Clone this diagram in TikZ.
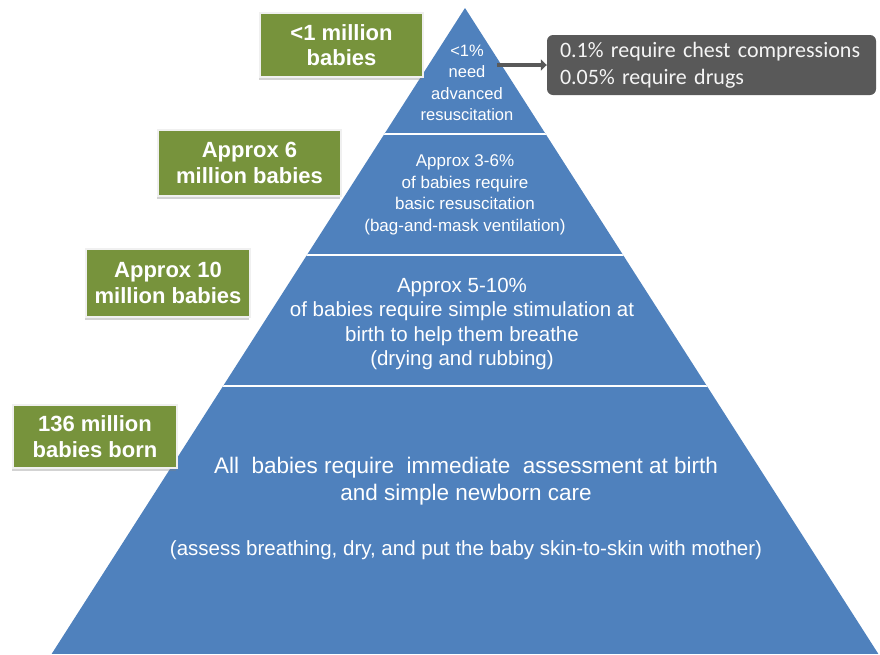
\documentclass[tikz,border=0pt]{standalone}
\usepackage{fontspec}
\setmainfont{Liberation Sans}
\newfontfamily\calibrifont{Carlito}
\usetikzlibrary{arrows.meta,shadows}

\definecolor{pyrblue}{HTML}{4F81BD}
\definecolor{labelgreen}{HTML}{77933C}
\definecolor{notegray}{HTML}{595959}

\tikzset{
  countbox/.style={fill=labelgreen, draw=white!88!gray, line width=1.2pt,
    text=white, font=\bfseries\fontsize{22}{25.5}\selectfont, align=center,
    inner sep=0pt,
    drop shadow={shadow xshift=-1pt, shadow yshift=-3pt, opacity=.35}},
  bandtext/.style={text=white, align=center, inner sep=0pt},
  smalltext/.style={bandtext, font=\fontsize{16.5}{21.5}\selectfont},
  bigtext/.style={bandtext, font=\fontsize{20.5}{24.5}\selectfont},
}

\begin{document}
\begin{tikzpicture}[x=1pt,y=-1pt]
    \useasboundingbox (0,0) rectangle (880,654);

    % pyramid with white band lines
    \begin{scope}
        \clip (465,8) -- (878.4,654) -- (51.6,654) -- cycle;
        \fill[pyrblue] (0,0) rectangle (880,654);
        \foreach \yy in {134,255,386}
            \draw[white, line width=2.5pt] (0,\yy) -- (880,\yy);
    \end{scope}

    % band texts
    \node[smalltext] (advtext) at (467,83) {<1\%\\need\\advanced\\resuscitation};
    \node[smalltext, font=\fontsize{17}{21.5}\selectfont] (basictext) at (465,195) {Approx 3-6\%\\of babies require\\basic resuscitation\\(bag-and-mask ventilation)};
    \node[bigtext] (stimtext) at (462,324) {Approx 5-10\%\\of babies require simple stimulation at\\birth to help them breathe\\(drying and rubbing)};
    \node[bigtext, font=\fontsize{22.5}{27}\selectfont] (caretext) at (466,481) {All\ \ babies require\ \ immediate\ \ assessment at birth\\and simple newborn care};
    \node[bigtext] (carenote) at (466,550) {(assess breathing, dry, and put the baby skin-to-skin with mother)};

    % green counts
    \node[countbox, minimum width=163pt, minimum height=64pt] (advcount) at (341.5,45) {<1 million\\babies};
    \node[countbox, minimum width=183pt, minimum height=66pt] (basiccount) at (249.5,163) {Approx 6\\million babies};
    \node[countbox, minimum width=164pt, minimum height=68pt] (stimcount) at (168,283) {Approx 10\\million babies};
    \node[countbox, minimum width=164pt, minimum height=63pt] (allcount) at (95,436.5) {136 million\\babies born};

    % grey note off the top
    \node[fill=notegray, rounded corners=6pt, text=white!92!gray,
          font=\calibrifont\fontsize{22}{27}\selectfont, align=left,
          text width=303pt, inner xsep=13pt, minimum height=60pt] (drugnote) at (711.5,65)
          {0.1\% require chest compressions\\0.05\% require drugs};
    \coordinate (advedge) at (497,65);
    \draw[notegray, line width=4.5pt, -{Triangle[length=6pt,width=11pt]}] (advedge) -- (drugnote.west);

\end{tikzpicture}
\end{document}
